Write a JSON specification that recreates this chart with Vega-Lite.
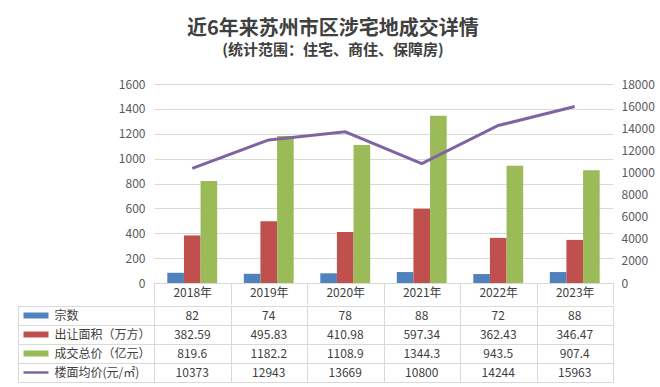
{
  "$schema": "https://vega.github.io/schema/vega-lite/v6.json",
  "background": "white",
  "padding": {"left": 17, "top": 19, "right": 4, "bottom": 4},
  "title": {
    "text": "近6年来苏州市区涉宅地成交详情",
    "subtitle": "(统计范围：住宅、商住、保障房)",
    "anchor": "middle",
    "dx": -3,
    "font": "Noto Sans CJK SC",
    "subtitleFont": "Noto Sans CJK SC",
    "fontSize": 20,
    "fontWeight": "bold",
    "subtitleFontSize": 15,
    "subtitleFontWeight": "bold",
    "color": "#404040",
    "subtitleColor": "#404040",
    "subtitlePadding": 4,
    "offset": 20
  },
  "datasets": {
    "d": [
      {"year": "2018年", "series": "宗数", "value": 82},
      {"year": "2019年", "series": "宗数", "value": 74},
      {"year": "2020年", "series": "宗数", "value": 78},
      {"year": "2021年", "series": "宗数", "value": 88},
      {"year": "2022年", "series": "宗数", "value": 72},
      {"year": "2023年", "series": "宗数", "value": 88},
      {"year": "2018年", "series": "出让面积（万方）", "value": 382.59},
      {"year": "2019年", "series": "出让面积（万方）", "value": 495.83},
      {"year": "2020年", "series": "出让面积（万方）", "value": 410.98},
      {"year": "2021年", "series": "出让面积（万方）", "value": 597.34},
      {"year": "2022年", "series": "出让面积（万方）", "value": 362.43},
      {"year": "2023年", "series": "出让面积（万方）", "value": 346.47},
      {"year": "2018年", "series": "成交总价（亿元）", "value": 819.6},
      {"year": "2019年", "series": "成交总价（亿元）", "value": 1182.2},
      {"year": "2020年", "series": "成交总价（亿元）", "value": 1108.9},
      {"year": "2021年", "series": "成交总价（亿元）", "value": 1344.3},
      {"year": "2022年", "series": "成交总价（亿元）", "value": 943.5},
      {"year": "2023年", "series": "成交总价（亿元）", "value": 907.4},
      {"year": "2018年", "series": "楼面均价(元/㎡)", "value": 10373},
      {"year": "2019年", "series": "楼面均价(元/㎡)", "value": 12943},
      {"year": "2020年", "series": "楼面均价(元/㎡)", "value": 13669},
      {"year": "2021年", "series": "楼面均价(元/㎡)", "value": 10800},
      {"year": "2022年", "series": "楼面均价(元/㎡)", "value": 14244},
      {"year": "2023年", "series": "楼面均价(元/㎡)", "value": 15963}
    ]
  },
  "spacing": 0,
  "vconcat": [
    {
      "width": 459,
      "height": 199,
      "data": {"name": "d"},
      "layer": [
        {
          "transform": [{"filter": "datum.series !== '楼面均价(元/㎡)'"}],
          "mark": {"type": "bar"},
          "encoding": {
            "x": {
              "field": "year", "type": "nominal", "sort": null,
              "scale": {"paddingInner": 0, "paddingOuter": 0},
              "axis": {
                "title": null, "orient": "bottom", "labelAngle": 0,
                "tickBand": "extent", "tickSize": 21, "tickColor": "#d9d9d9",
                "domainColor": "#d9d9d9", "labelPadding": -17,
                "labelFontSize": 12, "labelColor": "#404040",
                "labelFont": "Noto Sans CJK SC", "grid": false,
                "minExtent": 0
              }
            },
            "xOffset": {
              "field": "series", "type": "nominal",
              "sort": ["宗数", "出让面积（万方）", "成交总价（亿元）"],
              "scale": {"paddingInner": 0, "paddingOuter": 0.8}
            },
            "y": {
              "field": "value", "type": "quantitative",
              "scale": {"domain": [0, 1600]},
              "axis": {
                "title": null, "values": [0, 200, 400, 600, 800, 1000, 1200, 1400, 1600],
                "format": "d",
                "domain": false, "ticks": false, "labelPadding": 9,
                "grid": true, "gridColor": "#d9d9d9",
                "labelFontSize": 12, "labelColor": "#595959",
                "labelFont": "Noto Sans CJK SC"
              }
            },
            "color": {
              "field": "series", "type": "nominal",
              "scale": {
                "domain": ["宗数", "出让面积（万方）", "成交总价（亿元）"],
                "range": ["#4F81BD", "#C0504D", "#9BBB59"]
              },
              "legend": null
            }
          }
        },
        {
          "transform": [{"filter": "datum.series === '楼面均价(元/㎡)'"}],
          "mark": {"type": "line", "strokeWidth": 3, "color": "#8064A2"},
          "encoding": {
            "x": {"field": "year", "type": "nominal", "sort": null},
            "y": {
              "field": "value", "type": "quantitative",
              "scale": {"domain": [0, 18000]},
              "axis": {
                "title": null, "orient": "right",
                "values": [0, 2000, 4000, 6000, 8000, 10000, 12000, 14000, 16000, 18000],
                "format": "d",
                "domain": false, "ticks": false, "grid": false, "labelPadding": 8,
                "labelFontSize": 12, "labelColor": "#595959",
                "labelFont": "Noto Sans CJK SC"
              }
            }
          }
        }
      ],
      "resolve": {"scale": {"y": "independent"}}
    },
    {
      "width": 459,
      "height": 76,
      "data": {"name": "d"},
      "layer": [
        {
          "mark": {"type": "text", "fontSize": 12, "color": "#404040", "font": "Noto Sans CJK SC"},
          "encoding": {
            "x": {
              "field": "year", "type": "nominal", "sort": null,
              "scale": {"paddingInner": 0, "paddingOuter": 0},
              "axis": {
                "title": null, "labels": false, "ticks": false, "domain": false,
                "grid": true, "tickBand": "extent", "gridColor": "#d9d9d9"
              }
            },
            "y": {
              "field": "series", "type": "nominal",
              "sort": ["宗数", "出让面积（万方）", "成交总价（亿元）", "楼面均价(元/㎡)"],
              "scale": {"paddingInner": 0, "paddingOuter": 0},
              "axis": {
                "title": null, "orient": "left", "offset": 106,
                "domain": false, "grid": false, "ticks": true,
                "tickSize": 25, "tickCap": "butt",
                "tickWidth": {"condition": {"test": "datum.value === '楼面均价(元/㎡)'", "value": 2.5}, "value": 6},
                "tickColor": {
                  "condition": [
                    {"test": "datum.value === '宗数'", "value": "#4F81BD"},
                    {"test": "datum.value === '出让面积（万方）'", "value": "#C0504D"},
                    {"test": "datum.value === '成交总价（亿元）'", "value": "#9BBB59"}
                  ],
                  "value": "#8064A2"
                },
                "labelAlign": "left", "labelPadding": -31,
                "labelFontSize": 12, "labelColor": "#404040",
                "labelFont": "Noto Sans CJK SC"
              }
            },
            "text": {"field": "value", "type": "nominal"}
          }
        },
        {
          "mark": {"type": "text", "text": ""},
          "encoding": {
            "y": {
              "field": "series", "type": "nominal",
              "sort": ["宗数", "出让面积（万方）", "成交总价（亿元）", "楼面均价(元/㎡)"],
              "axis": {
                "title": null, "orient": "left", "offset": 0,
                "labels": false, "domain": false, "grid": true,
                "gridColor": "#d9d9d9", "tickBand": "extent",
                "tickSize": 136, "tickColor": "#d9d9d9"
              }
            }
          }
        },
        {
          "mark": {"type": "text", "text": ""},
          "encoding": {
            "y": {
              "field": "series", "type": "nominal",
              "sort": ["宗数", "出让面积（万方）", "成交总价（亿元）", "楼面均价(元/㎡)"],
              "axis": {
                "title": null, "orient": "left", "offset": 136,
                "labels": false, "ticks": false, "grid": false,
                "domain": true, "domainColor": "#d9d9d9"
              }
            }
          }
        }
      ],
      "resolve": {"axis": {"y": "independent"}}
    }
  ],
  "config": {
    "view": {"stroke": null},
    "font": "Noto Sans CJK SC"
  }
}
